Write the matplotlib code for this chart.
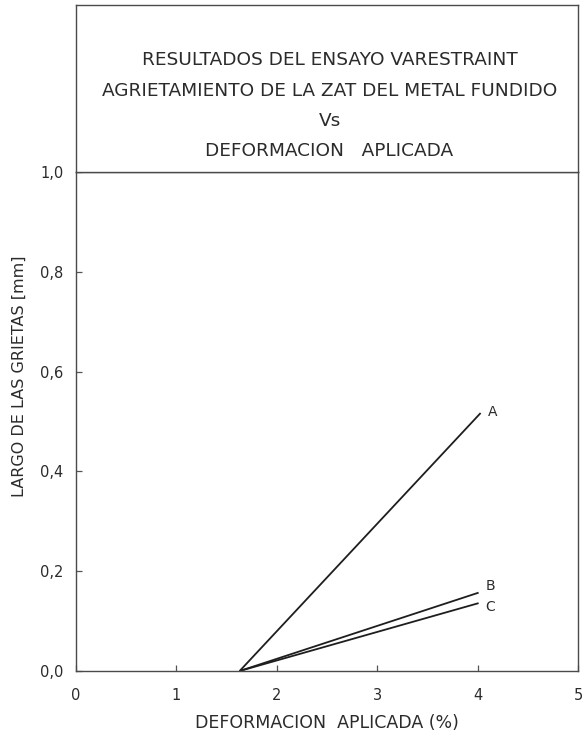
import matplotlib
matplotlib.use("Agg")
import matplotlib.pyplot as plt

# Varestraint results: crack length vs applied strain
curves = ["A", "B", "C"]
strain_start = [1.63, 1.63, 1.63]
strain_end = [4.03, 4.01, 4.01]
crack_end = [0.517, 0.157, 0.136]
label_offset = [(7, 1), (7, 7), (7, -4)]

x_ticks = [0, 1, 2, 3, 4, 5]
y_ticks = [0.0, 0.2, 0.4, 0.6, 0.8, 1.0]
y_ticklabels = ["0,0", "0,2", "0,4", "0,6", "0,8", "1,0"]

title_lines = [
    "RESULTADOS DEL ENSAYO VARESTRAINT",
    "AGRIETAMIENTO DE LA ZAT DEL METAL FUNDIDO",
    "Vs",
    "DEFORMACION   APLICADA",
]

ink = "#2b2b2b"
plt.rcParams["font.family"] = ["DejaVu Sans"]

fig = plt.figure(figsize=(5.82, 7.34), dpi=100)
W, H = 582, 734
left, right, bottom, top = 76 / W, 578 / W, (H - 671) / H, (H - 172) / H
ax = fig.add_axes([left, bottom, right - left, top - bottom])

for name, x0, x1, y1, off in zip(curves, strain_start, strain_end, crack_end, label_offset):
    ax.plot([x0, x1], [0, y1], color="#1e1e1e", lw=1.3, solid_capstyle="butt")
    ax.annotate(name, (x1, y1), xytext=off, textcoords="offset pixels",
                fontsize=10, color=ink, va="center", ha="left")

ax.set_xlim(0, 5)
ax.set_ylim(0, 1.0)
ax.set_xticks(x_ticks)
ax.set_yticks(y_ticks)
ax.set_yticklabels(y_ticklabels)
ax.tick_params(direction="in", length=4, width=0.9, colors="#555555",
               labelcolor=ink, labelsize=10.5)
ax.tick_params(axis="x", pad=12)
ax.tick_params(axis="y", pad=9)
for s in ax.spines.values():
    s.set_color("#4a4a4a")
    s.set_linewidth(1.0)

ax.set_xlabel("DEFORMACION  APLICADA (%)", fontsize=12.5, color=ink, labelpad=8)
ax.set_ylabel("LARGO DE LAS GRIETAS [mm]", fontsize=11.5, color=ink)
ax.yaxis.set_label_coords(-0.098, 0.59)

# title block above the plot
tb = fig.add_axes([left, top, right - left, (172 - 5) / H])
tb.set_xticks([])
tb.set_yticks([])
tb.set_xlim(0, 1)
tb.set_ylim(0, 1)
for s in tb.spines.values():
    s.set_color("#4a4a4a")
    s.set_linewidth(1.0)
for i, line in enumerate(title_lines):
    yy = 1 - (55 + 30.5 * i) / 167
    tb.text(0.505, yy, line, ha="center", va="center", fontsize=13.3, color=ink)

fig.savefig("out.png", dpi=100, facecolor="white")
